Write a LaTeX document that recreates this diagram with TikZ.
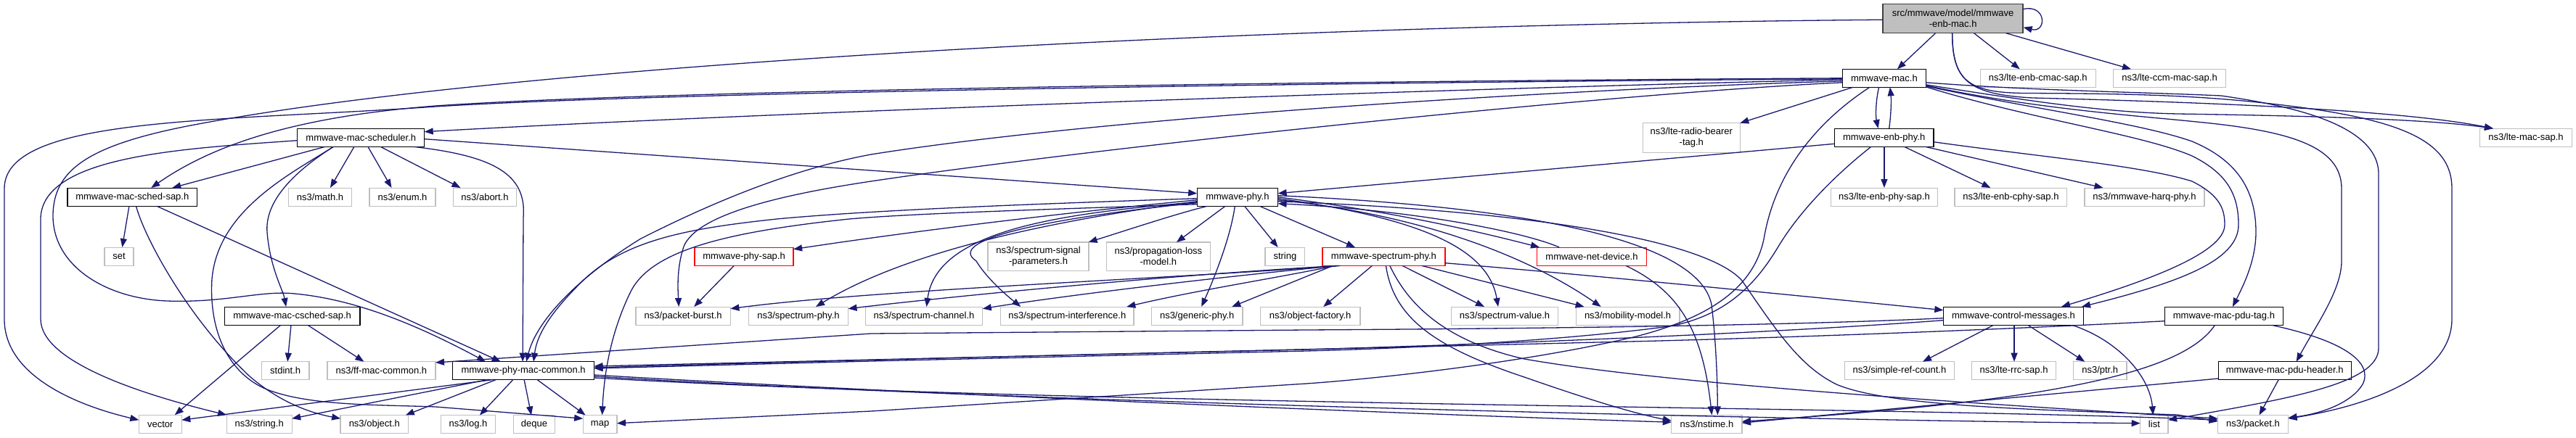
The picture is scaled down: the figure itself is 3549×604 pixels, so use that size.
\documentclass[tikz,border=0pt]{standalone}
\usepackage{fontspec}
\setmainfont{Liberation Sans}
\usetikzlibrary{arrows.meta,calc}
\definecolor{edgec}{HTML}{191970}
\definecolor{extc}{HTML}{BFBFBF}
\definecolor{mainfill}{HTML}{BFBFBF}
\definecolor{mainborder}{HTML}{404040}
\definecolor{redc}{HTML}{FF0000}
\tikzset{
  nb/.style={rectangle, inner sep=0pt, line width=1.3pt, font=\fontsize{13}{15}\selectfont, align=center, minimum height=25pt},
  doc/.style={nb, draw=black},
  ext/.style={nb, draw=extc},
  redn/.style={nb, draw=redc},
  e/.style={draw=edgec, line width=1.3pt, -{Triangle[length=12pt,width=9pt]}},
}
\begin{document}
\begin{tikzpicture}[x=1pt,y=-1pt]
\useasboundingbox (0,0) rectangle (3549,604);
% nodes
\node[nb, fill=mainfill, draw=mainborder, minimum width=193pt, minimum height=40pt] (main) at (2690.6,25.7) {src/mmwave/model/mmwave\\-enb-mac.h};
\node[doc, minimum width=115pt] (mac) at (2595.9,107.8) {mmwave-mac.h};
\node[ext, minimum width=159pt] (cmac) at (2807.7,107.8) {ns3/lte-enb-cmac-sap.h};
\node[ext, minimum width=155pt] (ccm) at (2989,107.8) {ns3/lte-ccm-mac-sap.h};
\node[doc, minimum width=175pt] (sched) at (497.3,189.7) {mmwave-mac-scheduler.h};
\node[ext, minimum width=134pt, minimum height=40.6pt] (rbtag) at (2330.3,190) {ns3/lte-radio-bearer\\-tag.h};
\node[doc, minimum width=136.6pt] (enbphy) at (2595.7,189.7) {mmwave-enb-phy.h};
\node[ext, minimum width=127pt] (macsap) at (3480,189.7) {ns3/lte-mac-sap.h};
\node[doc, minimum width=178.7pt] (schedsap) at (182.3,271.7) {mmwave-mac-sched-sap.h};
\node[ext, minimum width=87pt] (math) at (441,271.7) {ns3/math.h};
\node[ext, minimum width=91pt] (enum) at (554.5,271.7) {ns3/enum.h};
\node[ext, minimum width=87pt] (abort) at (668,271.7) {ns3/abort.h};
\node[doc, minimum width=111.4pt] (phy) at (1704.9,271.7) {mmwave-phy.h};
\node[ext, minimum width=147pt] (enbphysap) at (2595.9,271.7) {ns3/lte-enb-phy-sap.h};
\node[ext, minimum width=154.6pt] (enbcphysap) at (2770.4,271.7) {ns3/lte-enb-cphy-sap.h};
\node[ext, minimum width=165pt] (harq) at (2954.5,271.7) {ns3/mmwave-harq-phy.h};
\node[ext, minimum width=40pt] (set) at (164,353.7) {set};
\node[redn, minimum width=136pt] (physap) at (1025.1,353.7) {mmwave-phy-sap.h};
\node[ext, minimum width=139pt, minimum height=39.7pt] (ssp) at (1430.6,353.8) {ns3/spectrum-signal\\-parameters.h};
\node[ext, minimum width=142.7pt, minimum height=39.7pt] (plm) at (1595.9,353.8) {ns3/propagation-loss\\-model.h};
\node[ext, minimum width=54.7pt] (string) at (1770.4,353.7) {string};
\node[redn, minimum width=169pt] (specphy) at (1906.4,353.7) {mmwave-spectrum-phy.h};
\node[redn, minimum width=150.8pt] (netdev) at (2193,353.7) {mmwave-net-device.h};
\node[doc, minimum width=186.7pt] (csched) at (402.6,435.7) {mmwave-mac-csched-sap.h};
\node[ext, minimum width=130.5pt] (pburst) at (941.2,435.7) {ns3/packet-burst.h};
\node[ext, minimum width=137pt] (sphy) at (1100,435.7) {ns3/spectrum-phy.h};
\node[ext, minimum width=161.5pt] (schan) at (1273,435.7) {ns3/spectrum-channel.h};
\node[ext, minimum width=183.3pt] (sint) at (1470.3,435.7) {ns3/spectrum-interference.h};
\node[ext, minimum width=125.5pt] (gphy) at (1649.2,435.7) {ns3/generic-phy.h};
\node[ext, minimum width=137.4pt] (ofac) at (1805.2,435.7) {ns3/object-factory.h};
\node[ext, minimum width=146.6pt] (sval) at (2073,435.7) {ns3/spectrum-value.h};
\node[ext, minimum width=142.7pt] (mob) at (2242.6,435.7) {ns3/mobility-model.h};
\node[doc, minimum width=193.3pt] (ctrl) at (2774,435.7) {mmwave-control-messages.h};
\node[doc, minimum width=162.7pt] (pdutag) at (3063.9,435.7) {mmwave-mac-pdu-tag.h};
\node[ext, minimum width=65.4pt] (stdint) at (393.2,511) {stdint.h};
\node[ext, minimum width=149pt] (ffmac) at (525.4,511) {ns3/ff-mac-common.h};
\node[doc, minimum width=194.8pt] (pmc) at (721.1,511) {mmwave-phy-mac-common.h};
\node[ext, minimum width=150.7pt] (src) at (2617,511) {ns3/simple-ref-count.h};
\node[ext, minimum width=116pt] (rrc) at (2774.5,511) {ns3/lte-rrc-sap.h};
\node[ext, minimum width=73.5pt] (ptr) at (2893.2,511) {ns3/ptr.h};
\node[doc, minimum width=183pt] (pduhdr) at (3147.7,511) {mmwave-mac-pdu-header.h};
\node[ext, minimum width=59pt] (vector) at (220.8,585.2) {vector};
\node[ext, minimum width=90pt] (nsstring) at (357.2,585.2) {ns3/string.h};
\node[ext, minimum width=93.4pt] (object) at (515.8,585.2) {ns3/object.h};
\node[ext, minimum width=74.6pt] (log) at (645,585.2) {ns3/log.h};
\node[ext, minimum width=57pt] (deque) at (736,585.2) {deque};
\node[ext, minimum width=46.7pt] (map) at (826.6,585.2) {map};
\node[ext, minimum width=97.2pt] (nstime) at (2351.4,585.2) {ns3/nstime.h};
\node[ext, minimum width=38.3pt] (list) at (2967.9,585.2) {list};
\node[ext, minimum width=97pt] (packet) at (3104,585.2) {ns3/packet.h};
% main edges
\draw[e] ($(main)+(-24,20)$) -- ($(mac)+(18,-12.5)$);
\draw[e] ($(main)+(96.5,-13)$) .. controls (2820,5) and (2820,46) .. ($(main)+(97,12)$);
\draw[e] ($(main)+(29,20)$) -- ($(cmac)+(-25,-12.5)$);
\draw[e] ($(main)+(73,20)$) -- ($(ccm)+(-53,-12.5)$);
\draw[e] ($(main)+(-96.5,1.5)$) .. controls (1700,35) and (700,90) .. (268,172) .. controls (120,200) and (72,235) .. (73,300) .. controls (75,370) and (150,412) .. (230,415) .. controls (310,418) and (360,400) .. (406,405) .. controls (480,412) and (560,440) .. ($(pmc)+(-52,-12.3)$);
\draw[e] ($(main)+(-1,20)$) .. controls (2690,110) and (2710,128) .. (2790,128.5) .. controls (2900,129) and (3000,130) .. (3100,140) .. controls (3300,160) and (3378,190) .. (3378,260) -- (3378,440) .. controls (3378,520) and (3260,560) .. ($(packet)+(48.5,-8)$);
\draw[e] ($(main)+(-1,20)$) .. controls (2690,110) and (2710,130) .. (2800,135) .. controls (3000,140) and (3300,150) .. ($(macsap)+(-45,-12.5)$);
% mac edges
\draw[e] ($(mac)+(-57.4,2)$) .. controls (1900,125) and (1000,158) .. ($(sched)+(87.4,-8)$);
\draw[e] ($(mac)+(-57.4,0)$) .. controls (1800,112) and (900,125) .. (600,146) .. controls (420,160) and (300,195) .. ($(schedsap)+(26,-12.7)$);
\draw[e] ($(mac)+(-57.4,1)$) .. controls (1800,114) and (900,128) .. (600,147) .. controls (300,168) and (6,160) .. (6,260) -- (6,440) .. controls (6,520) and (110,560) .. ($(vector)+(-29.5,-6)$);
\draw[e] ($(mac)+(-57.4,4)$) .. controls (2100,125) and (1500,165) .. (1200,213) .. controls (1080,235) and (960,290) .. (883,329) .. controls (800,380) and (740,440) .. ($(pmc)+(4,-12.3)$);
\draw[e] ($(mac)+(-57.4,6)$) .. controls (2200,130) and (1500,205) .. (1200,250) .. controls (1080,268) and (960,295) .. (942,340) .. controls (932,370) and (934,400) .. ($(pburst)+(-6,-12.7)$);
\draw[e] ($(mac)+(-43,12.5)$) -- ($(rbtag)+(67,-20.3)$);
\draw[e] ($(mac)+(-7.3,12.5)$) .. controls (2584,140) and (2584,160) .. ($(enbphy)+(-8.2,-12.7)$);
\draw[e] ($(enbphy)+(7,-12.7)$) .. controls (2605,160) and (2606,140) .. ($(mac)+(8,12.5)$);
\draw[e] ($(mac)+(57.4,9)$) .. controls (2800,140) and (2900,155) .. (3000,157) .. controls (3200,160) and (3350,165) .. ($(macsap)+(-45,-12.5)$);
\draw[e] ($(mac)+(57.4,6)$) .. controls (2800,125) and (2950,127) .. (3060,132) .. controls (3150,145) and (3277,170) .. (3277,240) -- (3277,480) .. controls (3277,530) and (3150,550) .. ($(list)+(19.2,-6)$);
\draw[e] ($(mac)+(57.4,10)$) .. controls (2800,150) and (2950,160) .. (3026,168) .. controls (3150,180) and (3226,200) .. (3226,260) -- (3226,360) .. controls (3226,400) and (3190,450) .. ($(pduhdr)+(16,-12.3)$);
\draw[e] ($(mac)+(57.4,11)$) .. controls (2800,150) and (2950,170) .. (3020,195) .. controls (3080,220) and (3108,260) .. (3108,320) .. controls (3108,360) and (3090,395) .. ($(pdutag)+(12,-12.7)$);
\draw[e] ($(mac)+(57.4,12)$) .. controls (2800,165) and (2950,185) .. (3020,215) .. controls (3070,240) and (3084,270) .. (3084,310) .. controls (3084,360) and (3000,390) .. ($(ctrl)+(94,-12.7)$);
\draw[e] ($(mac)+(-20,12.5)$) .. controls (2500,170) and (2445,240) .. (2430,330) .. controls (2415,400) and (2350,440) .. (2250,465) .. controls (2100,500) and (1900,522) .. (1800,529) -- (1200,567) -- ($(map)+(23.4,-1.5)$);
% enbphy edges
\draw[e] ($(enbphy)+(68.3,6)$) .. controls (2800,215) and (2950,228) .. (3020,250) .. controls (3060,270) and (3065,290) .. (3065,310) .. controls (3065,350) and (2950,390) .. ($(ctrl)+(66,-12.7)$);
\draw[e] ($(enbphy)+(-18,12.7)$) .. controls (2530,240) and (2480,290) .. (2450,340) .. controls (2420,390) and (2380,435) .. (2300,450) .. controls (2150,470) and (1950,480) .. (1800,484) -- (1200,498) -- ($(pmc)+(97.4,-3)$);
\draw[e] ($(enbphy)+(-68.3,8.6)$) -- ($(phy)+(55.7,-5)$);
\draw[e] ($(enbphy)+(0.2,12.7)$) -- ($(enbphysap)+(0,-12.7)$);
\draw[e] ($(enbphy)+(28,12.7)$) -- ($(enbcphysap)+(-28,-12.7)$);
\draw[e] ($(enbphy)+(57,12.7)$) -- ($(harq)+(-57,-12.7)$);
% sched edges
\draw[e] ($(sched)+(-49.6,12.7)$) -- ($(schedsap)+(55,-12.7)$);
\draw[e] ($(sched)+(-9.4,12.7)$) -- ($(math)+(14,-12.7)$);
\draw[e] ($(sched)+(9.7,12.7)$) -- ($(enum)+(-15,-12.7)$);
\draw[e] ($(sched)+(27,12.7)$) -- ($(abort)+(-33.5,-12.7)$);
\draw[e] ($(sched)+(87.4,2)$) -- ($(phy)+(-55.7,-5)$);
\draw[e] ($(sched)+(72.8,12.7)$) .. controls (680,215) and (726,240) .. (721,300) -- ($(pmc)+(-1,-12.3)$);
\draw[e] ($(sched)+(-87.4,4)$) .. controls (250,205) and (60,215) .. (56,300) -- (56,440) .. controls (56,500) and (200,545) .. ($(nsstring)+(-45,-13)$);
\draw[e] ($(sched)+(-38,12.7)$) .. controls (400,240) and (365,280) .. (368,320) .. controls (372,370) and (390,400) .. ($(csched)+(-8.5,-12.7)$);
\draw[e] ($(sched)+(-38,12.7)$) .. controls (400,240) and (300,290) .. (292,385) .. controls (288,450) and (310,510) .. (363,535) .. controls (420,560) and (520,558) .. (600,561) -- ($(map)+(-23.4,-8)$);
% schedsap edges
\draw[e] ($(schedsap)+(-4.4,12.7)$) -- ($(set)+(4.4,-12.7)$);
\draw[e] ($(schedsap)+(5.2,12.7)$) .. controls (200,330) and (260,440) .. (344,519) .. controls (380,550) and (420,568) .. ($(object)+(-46.7,-8)$);
\draw[e] ($(schedsap)+(34,12.7)$) -- ($(pmc)+(-31.2,-12.3)$);
% csched edges
\draw[e] ($(csched)+(-16,12.7)$) -- ($(vector)+(20,-13)$);
\draw[e] ($(csched)+(-1.6,12.7)$) -- ($(stdint)+(3,-12.3)$);
\draw[e] ($(csched)+(21.5,12.7)$) -- ($(ffmac)+(-24,-12.3)$);
% pmc edges
\draw[e] ($(pmc)+(-40,12.3)$) -- ($(vector)+(29.5,-6)$);
\draw[e] ($(pmc)+(-48,12.3)$) -- ($(nsstring)+(45,-8)$);
\draw[e] ($(pmc)+(-37,12.3)$) -- ($(object)+(43,-12.7)$);
\draw[e] ($(pmc)+(-14,12.3)$) -- ($(log)+(16,-12.7)$);
\draw[e] ($(pmc)+(1,12.3)$) -- ($(deque)+(-4,-12.7)$);
\draw[e] ($(pmc)+(18.6,12.3)$) -- ($(map)+(-20,-12.7)$);
\draw[e] ($(pmc)+(97.4,6)$) .. controls (1200,540) and (1900,570) .. ($(nstime)+(-48.6,-3)$);
\draw[e] ($(pmc)+(97.4,8)$) .. controls (1400,555) and (2500,580) .. ($(list)+(-19.2,-1.5)$);
\draw[e] ($(pmc)+(97.4,10)$) .. controls (1500,560) and (2600,560) .. ($(packet)+(-48.5,-6)$);
% ctrl edges
\draw[e] ($(ctrl)+(-96.7,3)$) .. controls (2550,445) and (2300,452) .. (1800,455) -- (1200,460) -- ($(ffmac)+(74.6,-11)$);
\draw[e] ($(ctrl)+(-96.7,6)$) .. controls (2500,455) and (2200,470) .. (1800,482) -- ($(pmc)+(97.4,-6)$);
\draw[e] ($(ctrl)+(-27.7,12.7)$) -- ($(src)+(32,-12.3)$);
\draw[e] ($(ctrl)+(1,12.7)$) -- ($(rrc)+(0.5,-12.3)$);
\draw[e] ($(ctrl)+(20,12.7)$) -- ($(ptr)+(-21,-12.3)$);
\draw[e] ($(ctrl)+(81,12.7)$) .. controls (2920,470) and (2962,520) .. ($(list)+(-1.6,-12.9)$);
% pdutag edges
\draw[e] ($(pdutag)+(-81.4,7)$) .. controls (2750,455) and (2400,468) .. (2200,472) .. controls (1900,480) and (1400,490) .. ($(pmc)+(97.4,-4)$);
\draw[e] ($(pdutag)+(-12.5,12.7)$) .. controls (3010,510) and (2850,552) .. ($(nstime)+(48.6,-4)$);
\draw[e] ($(pdutag)+(66,12.7)$) .. controls (3230,470) and (3270,500) .. (3255,530) .. controls (3240,555) and (3200,570) .. ($(packet)+(48.5,-9)$);
% pduhdr edges
\draw[e] ($(pduhdr)+(-8.3,12.3)$) -- ($(packet)+(8.6,-12.9)$);
\draw[e] ($(pduhdr)+(-91.5,11)$) .. controls (2950,532) and (2700,555) .. ($(nstime)+(48.6,-2)$);
% phy edges
\draw[e] ($(phy)+(-55.7,4)$) .. controls (1450,295) and (1250,320) .. ($(physap)+(68,-10)$);
\draw[e] ($(phy)+(-55.7,6)$) .. controls (1480,300) and (1260,340) .. ($(sphy)+(24,-12.7)$);
\draw[e] ($(phy)+(-55.7,7)$) .. controls (1450,295) and (1290,320) .. ($(schan)+(3.5,-12.7)$);
\draw[e] ($(phy)+(-55.7,8)$) .. controls (1450,300) and (1300,330) .. (1345,360) .. controls (1360,385) and (1390,410) .. ($(sint)+(-64,-12.7)$);
\draw[e] ($(phy)+(-42,12.7)$) .. controls (1620,295) and (1560,315) .. ($(ssp)+(69,-19.8)$);
\draw[e] ($(phy)+(-17,12.7)$) -- ($(plm)+(25,-19.8)$);
\draw[e] ($(phy)+(-3.6,12.7)$) .. controls (1695,330) and (1670,390) .. ($(gphy)+(6,-12.7)$);
\draw[e] ($(phy)+(9.8,12.7)$) -- ($(string)+(-9.8,-12.7)$);
\draw[e] ($(phy)+(30.8,12.7)$) -- ($(specphy)+(-39.4,-12.7)$);
\draw[e] ($(phy)+(55.7,0)$) .. controls (1900,290) and (2000,310) .. ($(netdev)+(-72,-12.7)$);
\draw[e] ($(phy)+(55.7,2)$) .. controls (1950,300) and (2050,340) .. ($(sval)+(-9,-12.7)$);
\draw[e] ($(phy)+(55.7,4)$) .. controls (1950,295) and (2100,350) .. ($(mob)+(-37,-12.7)$);
\draw[e] ($(phy)+(55.7,-2)$) .. controls (2100,285) and (2340,330) .. (2358,420) .. controls (2364,470) and (2366,520) .. ($(nstime)+(15,-12.9)$);
\draw[e] ($(phy)+(55.7,6)$) .. controls (2100,290) and (2350,330) .. (2400,387) .. controls (2450,460) and (2480,505) .. (2530,530) .. controls (2600,560) and (2800,565) .. (3000,572) -- ($(packet)+(-48.5,-4)$);
\draw[e] ($(phy)+(-55.7,2)$) .. controls (1400,282) and (1200,290) .. (1070,302) .. controls (950,315) and (860,330) .. (800,390) .. controls (760,430) and (740,460) .. ($(pmc)+(14,-12.3)$);
\draw[e] ($(phy)+(-55.7,10)$) .. controls (1400,290) and (1250,295) .. (1170,302) .. controls (1000,320) and (900,345) .. (870,400) .. controls (840,460) and (832,520) .. ($(map)+(3,-12.9)$);
% netdev edges
\draw[e] ($(netdev)+(-44.8,-12.7)$) .. controls (2100,320) and (1950,290) .. ($(phy)+(55.7,9)$);
\draw[e] ($(netdev)+(47,12.7)$) .. controls (2310,400) and (2345,450) .. ($(nstime)+(7,-12.9)$);
% specphy edges
\draw[e] ($(specphy)+(-60,12.7)$) .. controls (1600,385) and (1200,400) .. ($(pburst)+(65.2,-10)$);
\draw[e] ($(specphy)+(-62,12.7)$) .. controls (1600,380) and (1300,410) .. ($(sphy)+(68.5,-10)$);
\draw[e] ($(specphy)+(-64,12.7)$) .. controls (1650,385) and (1450,410) .. ($(schan)+(80.8,-10)$);
\draw[e] ($(specphy)+(-66,12.7)$) .. controls (1750,385) and (1650,400) .. ($(sint)+(82,-12.7)$);
\draw[e] ($(specphy)+(-70,12.7)$) -- ($(gphy)+(48,-12.7)$);
\draw[e] ($(specphy)+(-16,12.7)$) -- ($(ofac)+(18,-12.7)$);
\draw[e] ($(specphy)+(25.6,12.7)$) -- ($(sval)+(-28,-12.7)$);
\draw[e] ($(specphy)+(52.4,12.7)$) -- ($(mob)+(-60,-12.7)$);
\draw[e] ($(specphy)+(3,12.7)$) .. controls (1920,440) and (1980,480) .. (2100,520) .. controls (2180,548) and (2250,570) .. ($(nstime)+(-48.6,-5)$);
\draw[e] ($(specphy)+(8.4,12.7)$) .. controls (1940,420) and (1990,470) .. (2100,495) .. controls (2300,530) and (2700,555) .. ($(packet)+(-48.5,-8)$);
\draw[e] ($(specphy)+(84.5,9)$) .. controls (2200,380) and (2500,410) .. ($(ctrl)+(-96.7,-8)$);
% physap
\draw[e] ($(physap)+(-13.8,12.7)$) -- ($(pburst)+(15,-12.7)$);
\end{tikzpicture}
\end{document}
